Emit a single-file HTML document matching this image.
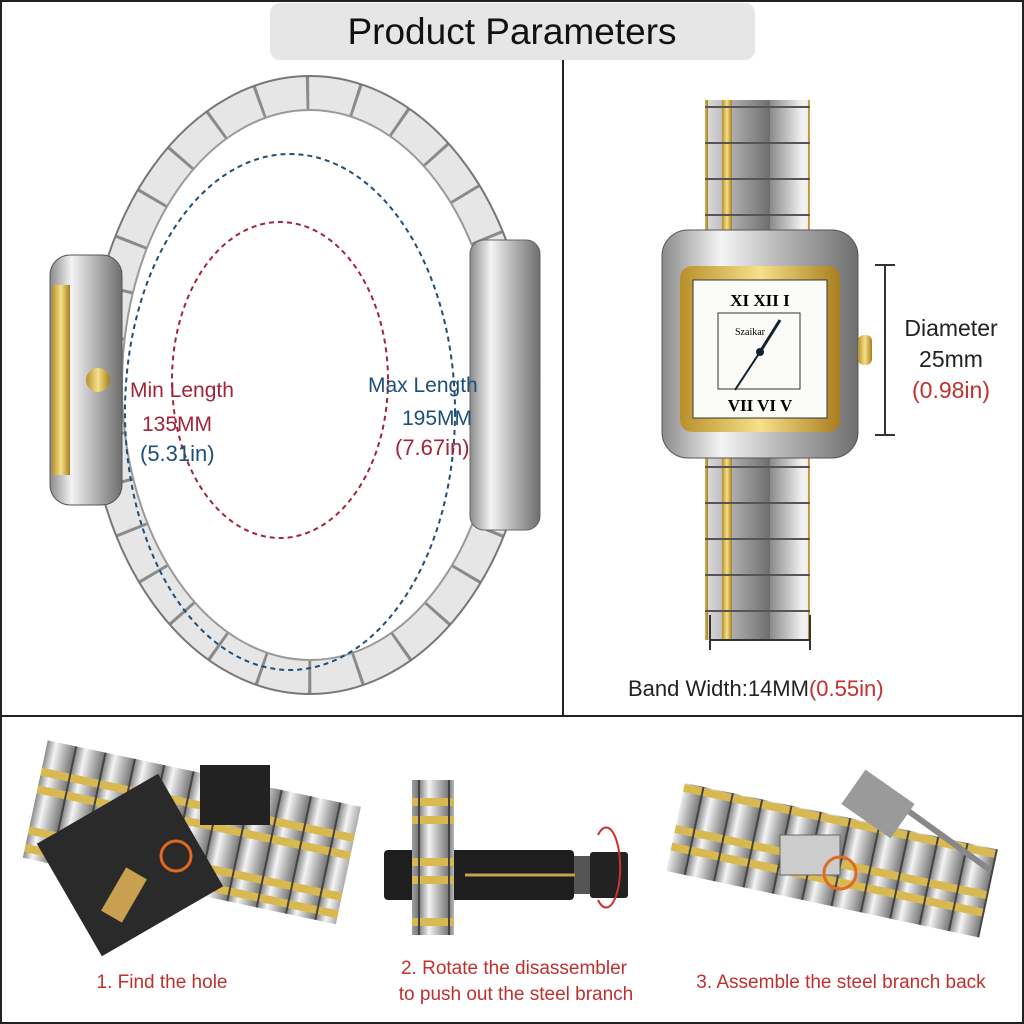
<!DOCTYPE html>
<html><head><meta charset="utf-8"><style>
html,body{margin:0;padding:0;background:#fff;}
svg{display:block;font-family:"Liberation Sans",sans-serif;}
</style></head><body>
<svg width="1024" height="1024" viewBox="0 0 1024 1024" xmlns="http://www.w3.org/2000/svg">
<defs>
<linearGradient id="steel" x1="0" x2="1"><stop offset="0" stop-color="#8a8a8a"/><stop offset=".3" stop-color="#f4f4f4"/><stop offset=".6" stop-color="#b8b8b8"/><stop offset="1" stop-color="#6e6e6e"/></linearGradient>
<linearGradient id="gold" x1="0" x2="1"><stop offset="0" stop-color="#b8902a"/><stop offset=".5" stop-color="#f6e08a"/><stop offset="1" stop-color="#a87e1e"/></linearGradient>
<pattern id="band" width="110" height="36" patternUnits="userSpaceOnUse"><rect width="110" height="36" fill="url(#steel)"/><rect x="38" width="10" height="36" fill="url(#gold)"/><rect x="62" width="10" height="36" fill="url(#gold)"/><line x1="0" y1="35" x2="110" y2="35" stroke="#555" stroke-width="2"/></pattern>
<pattern id="hband" width="30" height="60" patternUnits="userSpaceOnUse"><rect width="30" height="60" fill="url(#steel)"/><rect y="18" width="30" height="8" fill="#d8b850"/><rect y="36" width="30" height="8" fill="#d8b850"/><line x1="29" y1="0" x2="29" y2="60" stroke="#444" stroke-width="2"/></pattern>
</defs>
<rect width="1024" height="1024" fill="#fff"/>
<rect x="1" y="1" width="1022" height="1022" fill="none" stroke="#222" stroke-width="2"/>
<line x1="563" y1="58" x2="563" y2="716" stroke="#222" stroke-width="2"/>
<line x1="0" y1="716" x2="1024" y2="716" stroke="#222" stroke-width="2"/>
<rect x="270" y="3" width="485" height="57" rx="10" fill="#e6e6e6"/>
<text x="512" y="44" font-size="37" text-anchor="middle" fill="#111">Product Parameters</text>

<!-- left bracelet -->
<ellipse cx="310" cy="385" rx="205" ry="292" fill="none" stroke="#e6e6e6" stroke-width="34"/>
<ellipse cx="310" cy="385" rx="205" ry="292" fill="none" stroke="#8a8a8a" stroke-width="34" stroke-dasharray="3 46"/>
<ellipse cx="310" cy="385" rx="222" ry="309" fill="none" stroke="#777" stroke-width="2"/>
<ellipse cx="310" cy="385" rx="188" ry="275" fill="none" stroke="#999" stroke-width="2"/>
<rect x="470" y="240" width="70" height="290" rx="14" fill="url(#steel)" stroke="#666"/>
<rect x="50" y="255" width="72" height="250" rx="20" fill="url(#steel)" stroke="#555"/>
<rect x="52" y="285" width="18" height="190" fill="url(#gold)"/>
<circle cx="98" cy="380" r="12" fill="url(#gold)"/>
<ellipse cx="290" cy="412" rx="165" ry="258" fill="none" stroke="#1e4e7a" stroke-width="2" stroke-dasharray="5 4"/>
<ellipse cx="280" cy="380" rx="108" ry="158" fill="none" stroke="#a3243a" stroke-width="2" stroke-dasharray="5 4"/>
<text x="130" y="397" font-size="21" fill="#a3243a">Min Length</text>
<text x="142" y="431" font-size="21" fill="#a3243a">135MM</text>
<text x="140" y="461" font-size="22" fill="#1e4e7a">(5.31in)</text>
<text x="368" y="392" font-size="21" fill="#1e4e7a">Max Length</text>
<text x="402" y="425" font-size="21" fill="#1e4e7a">195MM</text>
<text x="395" y="455" font-size="22" fill="#a3243a">(7.67in)</text>

<!-- right watch -->
<rect x="705" y="100" width="105" height="540" fill="url(#band)"/>
<rect x="662" y="230" width="196" height="228" rx="26" fill="url(#steel)" stroke="#555"/>
<rect x="680" y="266" width="160" height="166" rx="12" fill="url(#gold)"/>
<rect x="693" y="280" width="134" height="138" fill="#fbfbf8" stroke="#333"/>
<rect x="718" y="313" width="82" height="76" fill="none" stroke="#333"/>
<text x="760" y="306" font-size="17" font-family="Liberation Serif" font-weight="bold" text-anchor="middle">XI XII I</text>
<text x="760" y="411" font-size="17" font-family="Liberation Serif" font-weight="bold" text-anchor="middle">VII VI V</text>
<text x="735" y="335" font-size="10" font-family="Liberation Serif">Szaikar</text>
<line x1="760" y1="352" x2="780" y2="320" stroke="#123" stroke-width="3"/>
<line x1="760" y1="352" x2="735" y2="390" stroke="#123" stroke-width="2"/>
<circle cx="760" cy="352" r="4" fill="#123"/>
<rect x="858" y="335" width="14" height="30" rx="6" fill="url(#gold)"/>
<line x1="885" y1="265" x2="885" y2="435" stroke="#333" stroke-width="2"/>
<line x1="875" y1="265" x2="895" y2="265" stroke="#333" stroke-width="2"/>
<line x1="875" y1="435" x2="895" y2="435" stroke="#333" stroke-width="2"/>
<text x="951" y="336" font-size="23" text-anchor="middle" fill="#222">Diameter</text>
<text x="951" y="367" font-size="23" text-anchor="middle" fill="#222">25mm</text>
<text x="951" y="398" font-size="23" text-anchor="middle" fill="#c0302e">(0.98in)</text>
<line x1="710" y1="615" x2="710" y2="650" stroke="#333" stroke-width="2"/>
<line x1="810" y1="615" x2="810" y2="650" stroke="#333" stroke-width="2"/>
<line x1="710" y1="640" x2="810" y2="640" stroke="#333" stroke-width="2"/>
<text x="628" y="696" font-size="22" fill="#222">Band Width:14MM<tspan fill="#c0302e">(0.55in)</tspan></text>

<!-- bottom photos -->
<g transform="rotate(12 180 840)"><rect x="30" y="770" width="320" height="120" fill="url(#hband)"/></g>
<rect x="60" y="800" width="140" height="130" fill="#2a2a2a" transform="rotate(-30 130 865)"/>
<rect x="200" y="765" width="70" height="60" fill="#222"/>
<circle cx="176" cy="856" r="15" fill="none" stroke="#e06a20" stroke-width="3"/>
<rect x="112" y="870" width="24" height="50" fill="#c8a050" transform="rotate(30 124 895)"/>

<rect x="384" y="850" width="190" height="50" rx="4" fill="#1e1e1e"/>
<rect x="574" y="856" width="16" height="38" fill="#555"/>
<rect x="590" y="852" width="38" height="46" rx="3" fill="#222"/>
<rect x="412" y="780" width="42" height="155" fill="url(#hband)"/>
<line x1="465" y1="875" x2="575" y2="875" stroke="#c8a050" stroke-width="3"/>
<path d="M598 835 A14 40 0 1 1 598 900" fill="none" stroke="#d03030" stroke-width="2"/>

<g transform="rotate(12 830 870)"><rect x="670" y="815" width="320" height="90" fill="url(#hband)"/></g>
<rect x="780" y="835" width="60" height="40" fill="#ccc" stroke="#666"/>
<circle cx="840" cy="873" r="16" fill="none" stroke="#e06a20" stroke-width="3"/>
<line x1="900" y1="805" x2="990" y2="870" stroke="#888" stroke-width="6"/>
<rect x="848" y="783" width="60" height="42" fill="#9a9a9a" transform="rotate(35 878 804)"/>

<text x="162" y="988" font-size="19" text-anchor="middle" fill="#c0302e">1. Find the hole</text>
<text x="514" y="974" font-size="19" text-anchor="middle" fill="#c0302e">2. Rotate the disassembler</text>
<text x="516" y="1000" font-size="19" text-anchor="middle" fill="#c0302e">to push out the steel branch</text>
<text x="841" y="988" font-size="19" text-anchor="middle" fill="#c0302e">3. Assemble the steel branch back</text>
</svg>
</body></html>
